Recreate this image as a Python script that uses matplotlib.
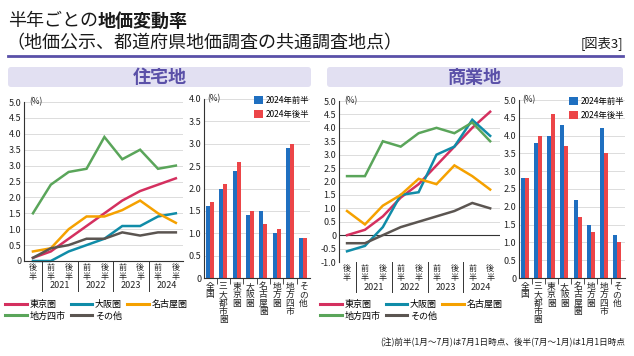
import matplotlib.pyplot as plt
import matplotlib.transforms as mtransforms
from matplotlib.patches import FancyBboxPatch, Patch
from matplotlib.lines import Line2D

plt.rcParams['font.family'] = ['Noto Sans CJK JP', 'DejaVu Sans']

W, H = 634, 356

# データ
periods = ['後半', '前半', '後半', '前半', '後半', '前半', '後半', '前半', '後半']
years = ['2021', '2022', '2023', '2024']
line_names = ['東京圏', '大阪圏', '名古屋圏', '地方四市', 'その他']

# 住宅地（半年ごと）
res_tokyo = [0.1, 0.3, 0.7, 1.1, 1.5, 1.9, 2.2, 2.4, 2.6]
res_osaka = [0.0, 0.0, 0.3, 0.5, 0.7, 1.1, 1.1, 1.4, 1.5]
res_nagoya = [0.3, 0.4, 1.0, 1.4, 1.4, 1.6, 1.9, 1.5, 1.2]
res_chiho4 = [1.5, 2.4, 2.8, 2.9, 3.9, 3.2, 3.5, 2.9, 3.0]
res_other = [0.1, 0.4, 0.5, 0.7, 0.7, 0.9, 0.8, 0.9, 0.9]

# 商業地（半年ごと）
com_tokyo = [0.0, 0.2, 0.7, 1.4, 1.9, 2.6, 3.3, 4.0, 4.6]
com_osaka = [-0.6, -0.4, 0.3, 1.5, 1.6, 3.0, 3.3, 4.3, 3.7]
com_nagoya = [0.9, 0.4, 1.1, 1.5, 2.1, 1.9, 2.6, 2.2, 1.7]
com_chiho4 = [2.2, 2.2, 3.5, 3.3, 3.8, 4.0, 3.8, 4.2, 3.5]
com_other = [-0.3, -0.3, 0.0, 0.3, 0.5, 0.7, 0.9, 1.2, 1.0]

# 2024年 地域別
bar_cats = ['全国', '三大都市圏', '東京圏', '大阪圏', '名古屋圏', '地方圏', '地方四市', 'その他']
bar_labels = ['2024年前半', '2024年後半']
res_2024_h1 = [1.6, 2.0, 2.4, 1.4, 1.5, 1.0, 2.9, 0.9]
res_2024_h2 = [1.7, 2.1, 2.6, 1.5, 1.2, 1.1, 3.0, 0.9]
com_2024_h1 = [2.8, 3.8, 4.0, 4.3, 2.2, 1.5, 4.2, 1.2]
com_2024_h2 = [2.8, 4.0, 4.6, 3.7, 1.7, 1.3, 3.5, 1.0]

line_colors = ['#d4305f', '#108ca8', '#f5a100', '#5aa55a', '#5b5551']
bar_colors = ['#1f6fc0', '#ec4548']
purple = '#5a50a8'
grid_c = '#dcdcdc'
axis_c = '#333333'

fig = plt.figure(figsize=(W / 100, H / 100), dpi=100)


def px_axes(x0, y0, x1, y1):
    return fig.add_axes([x0 / W, 1 - y1 / H, (x1 - x0) / W, (y1 - y0) / H])


# 背景の装飾
bg = fig.add_axes([0, 0, 1, 1])
bg.set_xlim(0, W)
bg.set_ylim(H, 0)
bg.axis('off')
t1 = bg.text(8, 21, '半年ごとの', fontsize=13, va='center', ha='left', color='#1a1a1a')
bg.annotate('地価変動率', xy=(1, 0.5), xycoords=t1, va='center', ha='left',
            fontsize=13, fontweight='bold', color='#1a1a1a')
bg.text(6, 43, '（地価公示、都道府県地価調査の共通調査地点）', fontsize=13, va='center',
        ha='left', color='#1a1a1a')
bg.text(623, 43, '[図表3]', fontsize=9.5, va='center', ha='right', color='#1a1a1a')
bg.plot([8, 623], [56, 56], color=purple, lw=2)
for x0, x1, name in [(8, 311, '住宅地'), (327, 623, '商業地')]:
    bg.add_patch(FancyBboxPatch((x0, 67), x1 - x0, 20, boxstyle='round,pad=0,rounding_size=3',
                                fc='#e2e0f2', ec='none'))
    bg.text((x0 + x1) / 2, 77.5, name, fontsize=13, fontweight='bold', color=purple,
            ha='center', va='center')
bg.text(625, 343, '(注)前半(1月～7月)は7月1日時点、後半(7月～1月)は1月1日時点',
        fontsize=6.2, ha='right', va='center', color='#1a1a1a')


def style_axes(ax, ylim, yticks):
    ax.set_ylim(*ylim)
    ax.set_yticks(yticks)
    ax.set_yticklabels(['0' if abs(v) < 1e-9 else f'{v:.1f}' for v in yticks])
    ax.tick_params(axis='y', length=0, labelsize=6.5, pad=2, colors='#222222')
    ax.grid(axis='y', color=grid_c, lw=0.7)
    ax.set_axisbelow(True)
    for s in ['top', 'right']:
        ax.spines[s].set_visible(False)
    ax.spines['left'].set_color(axis_c)
    ax.spines['left'].set_linewidth(0.8)
    ax.spines['bottom'].set_color(axis_c)
    ax.spines['bottom'].set_linewidth(0.8)
    ax.patch.set_alpha(0)
    ax.text(0.03, ylim[1], '(%)', fontsize=6, transform=mtransforms.blended_transform_factory(
        ax.transAxes, ax.transData), va='center', ha='left', color='#222222')


def line_chart(box, series, ylim, yticks, xlim):
    ax = px_axes(*box)
    hpx = box[3] - box[1]
    style_axes(ax, ylim, yticks)
    ax.set_xlim(*xlim)
    ax.set_xticks([])
    if ylim[0] < 0:
        ax.axhline(0, color=axis_c, lw=0.8)
        ax.spines['bottom'].set_visible(False)
    x = list(range(len(periods)))
    for vals, c in zip(series, line_colors):
        ax.plot(x, vals, color=c, lw=1.8, solid_joinstyle='miter', clip_on=False)
    trans = mtransforms.blended_transform_factory(ax.transData, ax.transAxes)
    for i, p in enumerate(periods):
        ax.text(i, -2 / hpx, '\n'.join(p), transform=trans, fontsize=5.8, ha='center',
                va='top', linespacing=0.95, color='#222222')
    for b in [0.5, 2.5, 4.5, 6.5]:
        ax.plot([b, b], [0, -30 / hpx], transform=trans, color=axis_c, lw=0.7, clip_on=False)
    for k, yr in enumerate(years):
        ax.text(1.5 + 2 * k, -25 / hpx, yr, transform=trans, fontsize=6.5, ha='center',
                va='center', color='#222222')
    return ax


def bar_chart(box, h1, h2, ylim, yticks, xlim):
    ax = px_axes(*box)
    hpx = box[3] - box[1]
    style_axes(ax, ylim, yticks)
    ax.set_xlim(*xlim)
    x = list(range(len(bar_cats)))
    ax.bar([i - 0.15 for i in x], h1, width=0.3, color=bar_colors[0], label=bar_labels[0])
    ax.bar([i + 0.15 for i in x], h2, width=0.3, color=bar_colors[1], label=bar_labels[1])
    ax.set_xticks([])
    ax.set_xticks([i + 0.5 for i in x[:-1]], minor=True)
    ax.tick_params(axis='x', which='minor', length=4, width=0.6, color=axis_c)
    trans = mtransforms.blended_transform_factory(ax.transData, ax.transAxes)
    for i, name in enumerate(bar_cats):
        ax.text(i, -4 / hpx, '\n'.join(name), transform=trans, fontsize=6.3, ha='center',
                va='top', linespacing=0.9, color='#222222')
    ax.legend(loc='upper right', bbox_to_anchor=(1.0, 1.02), frameon=False, fontsize=6,
              handlelength=1.1, handleheight=1.1, handletextpad=0.3, labelspacing=0.55,
              borderaxespad=0.0, borderpad=0.1)
    return ax


line_chart((24, 102, 183, 261), [res_tokyo, res_osaka, res_nagoya, res_chiho4, res_other],
           (0, 5.0), [i * 0.5 for i in range(11)], (-0.5, 8.4))
line_chart((339, 101, 500, 262), [com_tokyo, com_osaka, com_nagoya, com_chiho4, com_other],
           (-1.0, 5.0), [-1.0 + i * 0.5 for i in range(13)], (-0.45, 8.55))
bar_chart((204, 99, 310, 278), res_2024_h1, res_2024_h2, (0, 4.0),
          [i * 0.5 for i in range(9)], (-0.45, 7.5))
bar_chart((519, 100, 625, 278), com_2024_h1, com_2024_h2, (0, 5.0),
          [i * 0.5 for i in range(11)], (-0.45, 7.6))

# 折れ線の凡例
handles = [Line2D([], [], color=c, lw=2.2) for c in line_colors]
order = [0, 3, 1, 4, 2]
for x0 in [4 / W, 319 / W]:
    fig.legend([handles[i] for i in order], [line_names[i] for i in order],
               loc='upper left', bbox_to_anchor=(x0, 1 - 299 / H), ncol=3, frameon=False,
               fontsize=6.5, handlelength=2.4, handletextpad=0.3, columnspacing=0.6,
               labelspacing=0.25, borderpad=0.1, borderaxespad=0)

fig.savefig('out.png', dpi=100)
